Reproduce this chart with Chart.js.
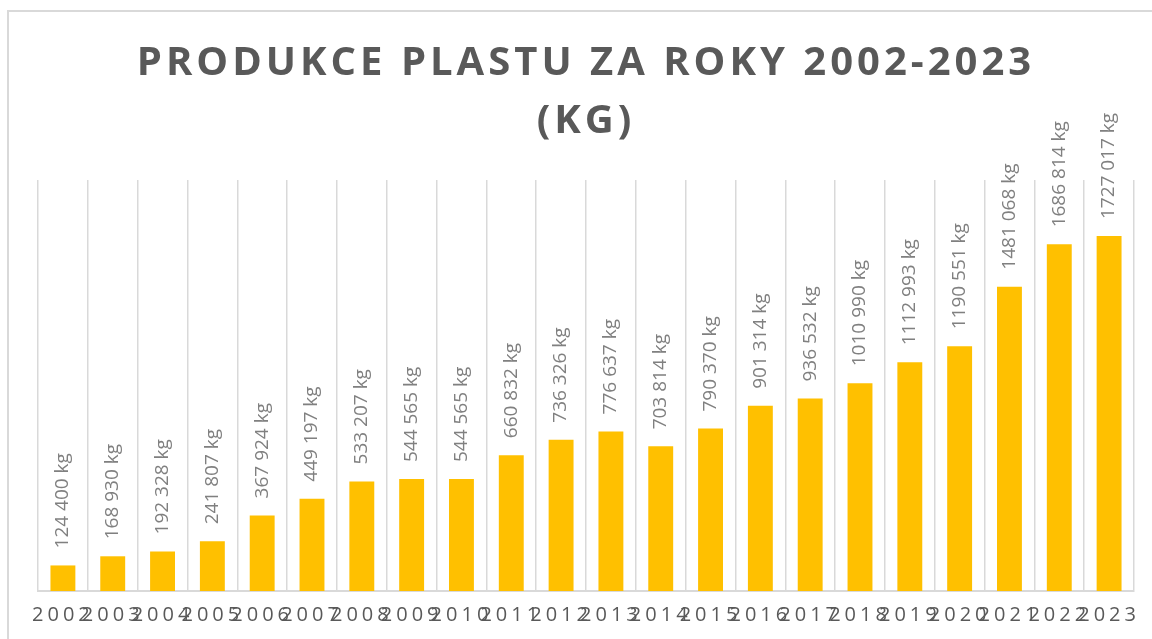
<!DOCTYPE html>
<html>
<head>
<meta charset="utf-8">
<script src="https://cdn.jsdelivr.net/npm/chart.js@4.4.1/dist/chart.umd.min.js"></script>
<style>
  html, body { margin: 0; padding: 0; background: #fff; overflow: hidden; }
  #wrap { position: relative; width: 1152px; height: 639px; }
  #frame { position: absolute; left: 7px; top: 10px; width: 1200px; height: 700px; border: 2px solid #d9d9d9; box-sizing: border-box; }
  canvas { position: absolute; left: 0; top: 0; }
</style>
</head>
<body>
<div id="wrap">
  <div id="frame"></div>
  <canvas id="plastChart" width="1152" height="639"></canvas>
</div>
<script>
  // data
  var years = ['2002', '2003', '2004', '2005', '2006', '2007', '2008', '2009', '2010', '2011', '2012',
               '2013', '2014', '2015', '2016', '2017', '2018', '2019', '2020', '2021', '2022', '2023'];
  var produkce = [124400, 168930, 192328, 241807, 367924, 449197, 533207, 544565, 544565, 660832, 736326,
                  776637, 703814, 790370, 901314, 936532, 1010990, 1112993, 1190551, 1481068, 1686814, 1727017];
  var titleLines = ['PRODUKCE PLASTU ZA ROKY 2002-2023', '(KG)'];
  var yMax = 2000000;

  function formatKg(v) {
    var rest = String(v % 1000).padStart(3, '0');
    return Math.floor(v / 1000) + ' ' + rest + ' kg';
  }

  // letter spacing: wide for the title, none for bars, a bit for the year labels
  // (x scale has z:1 so it is drawn after the datasets)
  var spacingPlugin = {
    id: 'spacing',
    beforeDraw: function(chart) { chart.ctx.letterSpacing = '4px'; },
    beforeDatasetsDraw: function(chart) { chart.ctx.letterSpacing = '0px'; },
    afterDatasetsDraw: function(chart) { chart.ctx.letterSpacing = '2px'; },
    afterDraw: function(chart) { chart.ctx.letterSpacing = '0px'; }
  };

  var valueLabels = {
    id: 'valueLabels',
    afterDatasetsDraw: function(chart) {
      var ctx = chart.ctx;
      var meta = chart.getDatasetMeta(0);
      ctx.save();
      ctx.letterSpacing = '0px';
      ctx.font = '19px "Open Sans"';
      ctx.fillStyle = '#808080';
      ctx.textAlign = 'left';
      ctx.textBaseline = 'middle';
      meta.data.forEach(function(bar, i) {
        ctx.save();
        ctx.translate(bar.x, bar.y - 17);
        ctx.rotate(-Math.PI / 2);
        ctx.fillText(formatKg(produkce[i]), 0, 0);
        ctx.restore();
      });
      ctx.restore();
    }
  };

  var ctx = document.getElementById('plastChart').getContext('2d');
  var plastChart = new Chart(ctx, {
    type: 'bar',
    data: {
      labels: years,
      datasets: [{
        label: 'Produkce plastu',
        data: produkce,
        backgroundColor: '#FFC000',
        borderWidth: 0,
        categoryPercentage: 1,
        barPercentage: 0.5
      }]
    },
    options: {
      responsive: false,
      animation: false,
      layout: { padding: { left: 38, right: 18, top: 0, bottom: 0 } },
      plugins: {
        legend: { display: false },
        tooltip: { enabled: false },
        title: {
          display: true,
          text: titleLines,
          color: '#595959',
          font: { family: '"Open Sans"', size: 40, weight: 'bold', lineHeight: 1.45 },
          padding: { top: 35, bottom: 29 }
        }
      },
      scales: {
        x: {
          z: 1,
          grid: { display: true, offset: true, color: '#d9d9d9', lineWidth: 1.5, drawTicks: false },
          border: { display: true, color: '#d9d9d9', width: 2 },
          ticks: {
            color: '#595959',
            font: { family: '"Open Sans"', size: 20 },
            padding: 12,
            maxRotation: 0,
            autoSkip: false
          }
        },
        y: {
          display: false,
          min: 0,
          max: yMax
        }
      }
    },
    plugins: [spacingPlugin, valueLabels]
  });
</script>
</body>
</html>
